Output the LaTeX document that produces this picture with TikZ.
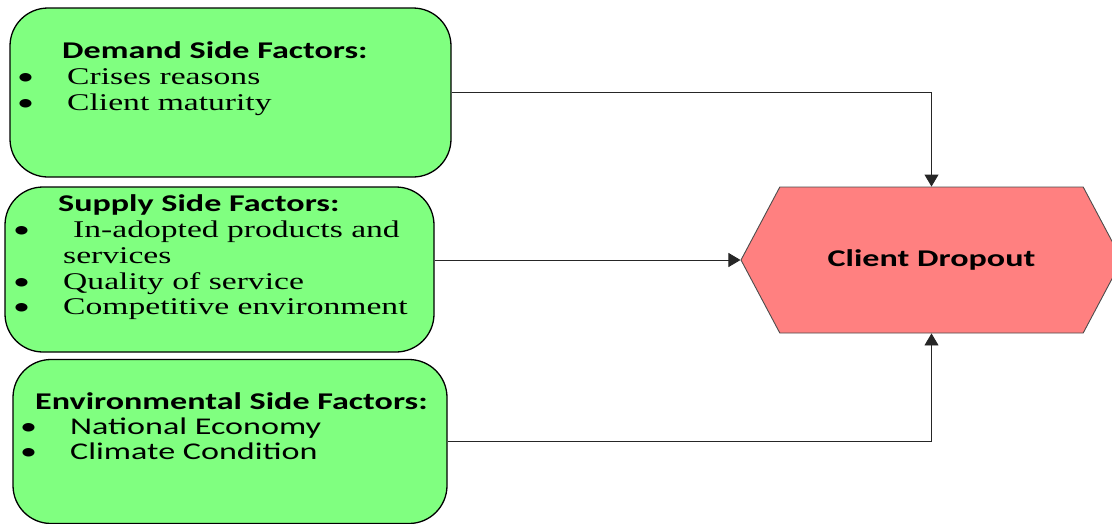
\documentclass[tikz,border=0pt]{standalone}
\usepackage{fontspec}
\setmainfont{Liberation Serif}[FakeStretch=1.4]
\newfontfamily\calibfont{Carlito}[FakeStretch=1.42]
\usetikzlibrary{arrows.meta, positioning, shapes.symbols}
\definecolor{factorgreen}{RGB}{128,255,128}
\definecolor{dropred}{RGB}{255,128,128}
\newcommand{\bul}{\makebox[50pt][l]{\calibfont\textbullet}}

\begin{document}
\begin{tikzpicture}[x=1pt, y=-1pt,
    factor/.style={draw=black, line width=1.3pt, fill=factorgreen, rounded corners=38pt, inner sep=0pt},
    dropbox/.style={draw=black!70, line width=0.9pt, fill=dropred, signal, signal to=west and east,
        signal pointer angle=124, inner sep=0pt, minimum width=381pt, minimum height=146pt,
        font=\calibfont\bfseries\fontsize{24}{26}\selectfont},
    head/.style={anchor=base west, inner sep=0pt, font=\calibfont\bfseries\fontsize{24}{26}\selectfont},
    item/.style={anchor=base west, inner sep=0pt, font=\fontsize{24}{26}\selectfont},
    sitem/.style={anchor=base west, inner sep=0pt, font=\calibfont\fontsize{24}{26}\selectfont},
    link/.style={draw=black!85, line width=0.9pt, -{Triangle[length=12pt,width=14pt]}}]
    \useasboundingbox (0,0) rectangle (1112,523);

    % factor boxes
    \node[factor, minimum width=441pt, minimum height=169pt] (demand) at (230.5,92.5) {};
    \node[factor, minimum width=429pt, minimum height=165pt] (supply) at (219.5,269.5) {};
    \node[factor, minimum width=434pt, minimum height=164pt] (environ) at (230,441.5) {};
    \node[dropbox] (dropout) at (931.5,260) {Client Dropout};

    % demand side
    \node[head] (demandhead) at (62,58) {Demand Side Factors:};
    \node[item] (crises) at (17,84) {\bul Crises reasons};
    \node[item] (maturity) at (17,110) {\bul Client maturity};

    % supply side
    \node[head] (supplyhead) at (58,211) {Supply Side Factors:};
    \node[item] (products) at (13,237) {\bul\hspace{10pt}In-adopted products and};
    \node[item] (services) at (63,263) {services};
    \node[item] (quality) at (13,289) {\bul Quality of service};
    \node[item] (competitive) at (13,314) {\bul Competitive environment};

    % environmental side
    \node[head] (environhead) at (35,409) {Environmental Side Factors:};
    \node[sitem] (economy) at (20,434) {\bul National Economy};
    \node[sitem] (climate) at (20,459) {\bul Climate Condition};

    % links
    \draw[link] (demand.east) -| (dropout.north);
    \draw[link] (supply.east |- dropout.west) -- (dropout.west);
    \draw[link] (environ.east) -| (dropout.south);
\end{tikzpicture}
\end{document}
